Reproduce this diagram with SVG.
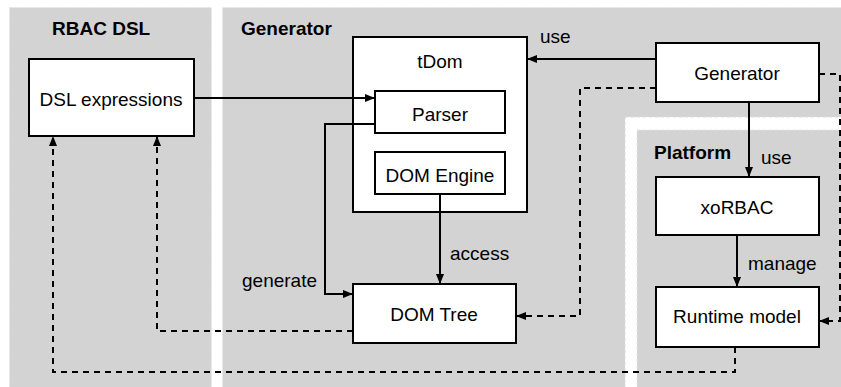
<svg xmlns="http://www.w3.org/2000/svg" width="841" height="387" viewBox="0 0 841 387">
<defs>
<style>
.panel{fill:#d3d3d3;stroke:#e6e6e6;stroke-width:1;stroke-dasharray:3 3}
.gap{fill:#ffffff;stroke:#d9d9d9;stroke-width:1;stroke-dasharray:3 3}
.box{fill:#ffffff;stroke:#000000;stroke-width:2}
.t{font-family:"Liberation Sans",Arial,sans-serif;font-size:19px;fill:#000000}
.title{font-family:"Liberation Sans",Arial,sans-serif;font-size:19px;font-weight:bold;fill:#000000}
.c{text-anchor:middle}
.solid{fill:none;stroke:#000000;stroke-width:2}
.dash{fill:none;stroke:#000000;stroke-width:2;stroke-dasharray:6 5}
</style>
<marker id="ah" viewBox="0 0 10 8" refX="10" refY="4" markerWidth="10" markerHeight="8" markerUnits="userSpaceOnUse" orient="auto">
<path d="M0,0 L10,4 L0,8 Z" fill="#000000"/>
</marker>
</defs>
<rect width="841" height="387" fill="#ffffff"/>
<g id="panel-rbac">
<rect class="panel" x="9.5" y="7.5" width="202" height="390"/>
<text class="title" x="52" y="35">RBAC DSL</text>
</g>
<g id="panel-generator">
<rect class="panel" x="222.5" y="7.5" width="630" height="390"/>
<text class="title" x="241" y="35">Generator</text>
</g>
<g id="panel-platform">
<rect class="gap" x="625" y="117" width="230" height="290"/>
<rect class="panel" x="637" y="130" width="220" height="280"/>
<text class="title" x="654" y="159">Platform</text>
</g>
<g id="node-dsl">
<rect class="box" x="29" y="59" width="165" height="77"/>
<text class="t c" x="111" y="106">DSL expressions</text>
</g>
<g id="node-tdom">
<rect class="box" x="353" y="37" width="174" height="175"/>
<text class="t c" x="440" y="68">tDom</text>
</g>
<g id="node-parser">
<rect class="box" x="375" y="91" width="130" height="42"/>
<text class="t c" x="440" y="121">Parser</text>
</g>
<g id="node-domengine">
<rect class="box" x="375" y="152" width="130" height="42"/>
<text class="t c" x="440" y="182">DOM Engine</text>
</g>
<g id="node-domtree">
<rect class="box" x="353" y="284" width="163" height="59"/>
<text class="t c" x="434" y="321">DOM Tree</text>
</g>
<g id="node-generator">
<rect class="box" x="656" y="43" width="163" height="59"/>
<text class="t c" x="737" y="80">Generator</text>
</g>
<g id="node-xorbac">
<rect class="box" x="656" y="177" width="163" height="58"/>
<text class="t c" x="737" y="214">xoRBAC</text>
</g>
<g id="node-runtime">
<rect class="box" x="656" y="287" width="163" height="60"/>
<text class="t c" x="737" y="323">Runtime model</text>
</g>
<g id="connectors">
<path class="solid" d="M194,98 H375" marker-end="url(#ah)"/>
<path class="solid" d="M375,124 H325 V294 H353" marker-end="url(#ah)"/>
<text class="t" x="242" y="287">generate</text>
<path class="solid" d="M656,59 H527" marker-end="url(#ah)"/>
<text class="t" x="540" y="43">use</text>
<path class="dash" d="M656,88 H580 V316 H516" marker-end="url(#ah)"/>
<path class="dash" d="M819,74 H840 V321 H819" marker-end="url(#ah)"/>
<path class="solid" d="M749,102 V177" marker-end="url(#ah)"/>
<text class="t" x="761" y="164">use</text>
<path class="solid" d="M737,235 V287" marker-end="url(#ah)"/>
<text class="t" x="748" y="270">manage</text>
<path class="solid" d="M440,194 V284" marker-end="url(#ah)"/>
<text class="t" x="450" y="260">access</text>
<path class="dash" d="M353,331 H157 V136" marker-end="url(#ah)"/>
<path class="dash" d="M735,347 V372 H53 V136" marker-end="url(#ah)"/>
</g>
</svg>
